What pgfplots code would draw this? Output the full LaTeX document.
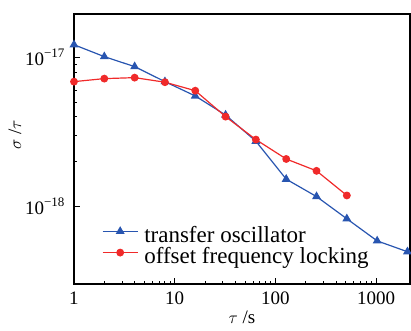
\documentclass[border=0pt]{standalone}
\usepackage{fontspec}
\setmainfont{Liberation Serif}
\usepackage{pgfplots}
\pgfplotsset{compat=1.18}
\definecolor{bl}{HTML}{2855B0}
\definecolor{rd}{HTML}{F02A2A}
\begin{document}
\begin{tikzpicture}
\begin{axis}[
  xmode=log, ymode=log,
  scale only axis,
  width=336pt, height=270pt,
  xmin=1, xmax=2170,
  ymin=3.03e-19, ymax=1.96e-17,
  axis line style={line width=1.1pt},
  tick align=inside,
  xtick pos=bottom, ytick pos=left,
  xtick={1,10,100,1000},
  xticklabels={1,10,100,1000},
  ytick={1e-18,1e-17},
  yticklabels={10\raisebox{0.42em}{\fontsize{13}{13}\selectfont −18},10\raisebox{0.42em}{\fontsize{13}{13}\selectfont −17}},
  major tick length=6pt,
  minor tick length=3.5pt,
  every tick/.style={line width=0.9pt, black},
  tick label style={font=\fontsize{19}{21}\selectfont},
  xticklabel style={yshift=-4pt},
  yticklabel style={xshift=-6pt},
  xlabel={$\tau$ /s},
  ylabel={$\sigma$ /$\tau$},
  label style={font=\fontsize{19}{21}\selectfont},
  xlabel style={at={(rel axis cs:0.5,-0.122)}, anchor=center},
  ylabel style={at={(rel axis cs:-0.176,0.552)}, anchor=center},
  legend cell align=left,
  legend style={draw=none, fill=none, font=\fontsize{23}{25}\selectfont,
    at={(rel axis cs:0.083,0.135)}, anchor=west, inner sep=0pt,
    row sep=0pt, column sep=6pt,
    nodes={inner sep=0pt, text height=15.8pt, text depth=5.4pt}},
  legend image code/.code={
    \draw[mark repeat=2,mark phase=2,#1] plot coordinates {(0pt,5.6pt)(17.5pt,5.6pt)(35pt,5.6pt)};
  },
  clip=false,
]
\addplot[bl, line width=1.2pt, mark=triangle*, mark size=4pt] coordinates {
(1,1.22e-17)(2,1.015e-17)(4,8.7e-18)(8,6.9e-18)(16,5.53e-18)(32,4.12e-18)(64,2.75e-18)(128,1.53e-18)(256,1.17e-18)(512,8.3e-19)(1024,5.9e-19)(2048,4.99e-19)};
\addlegendentry{transfer oscillator}
\addplot[rd, line width=1.2pt, mark=*, mark size=3.3pt] coordinates {
(1,6.9e-18)(2,7.23e-18)(4,7.34e-18)(8,6.84e-18)(16,6.0e-18)(32,4.02e-18)(64,2.82e-18)(128,2.09e-18)(256,1.74e-18)(512,1.19e-18)};
\addlegendentry{offset frequency locking}
\coordinate (sw) at (rel axis cs:0,0);
\coordinate (ne) at (rel axis cs:1,1);
\end{axis}
\pgfresetboundingbox
\path ([shift={(-74pt,-46pt)}]sw) rectangle ([shift={(1pt,14pt)}]ne);
\end{tikzpicture}
\end{document}
